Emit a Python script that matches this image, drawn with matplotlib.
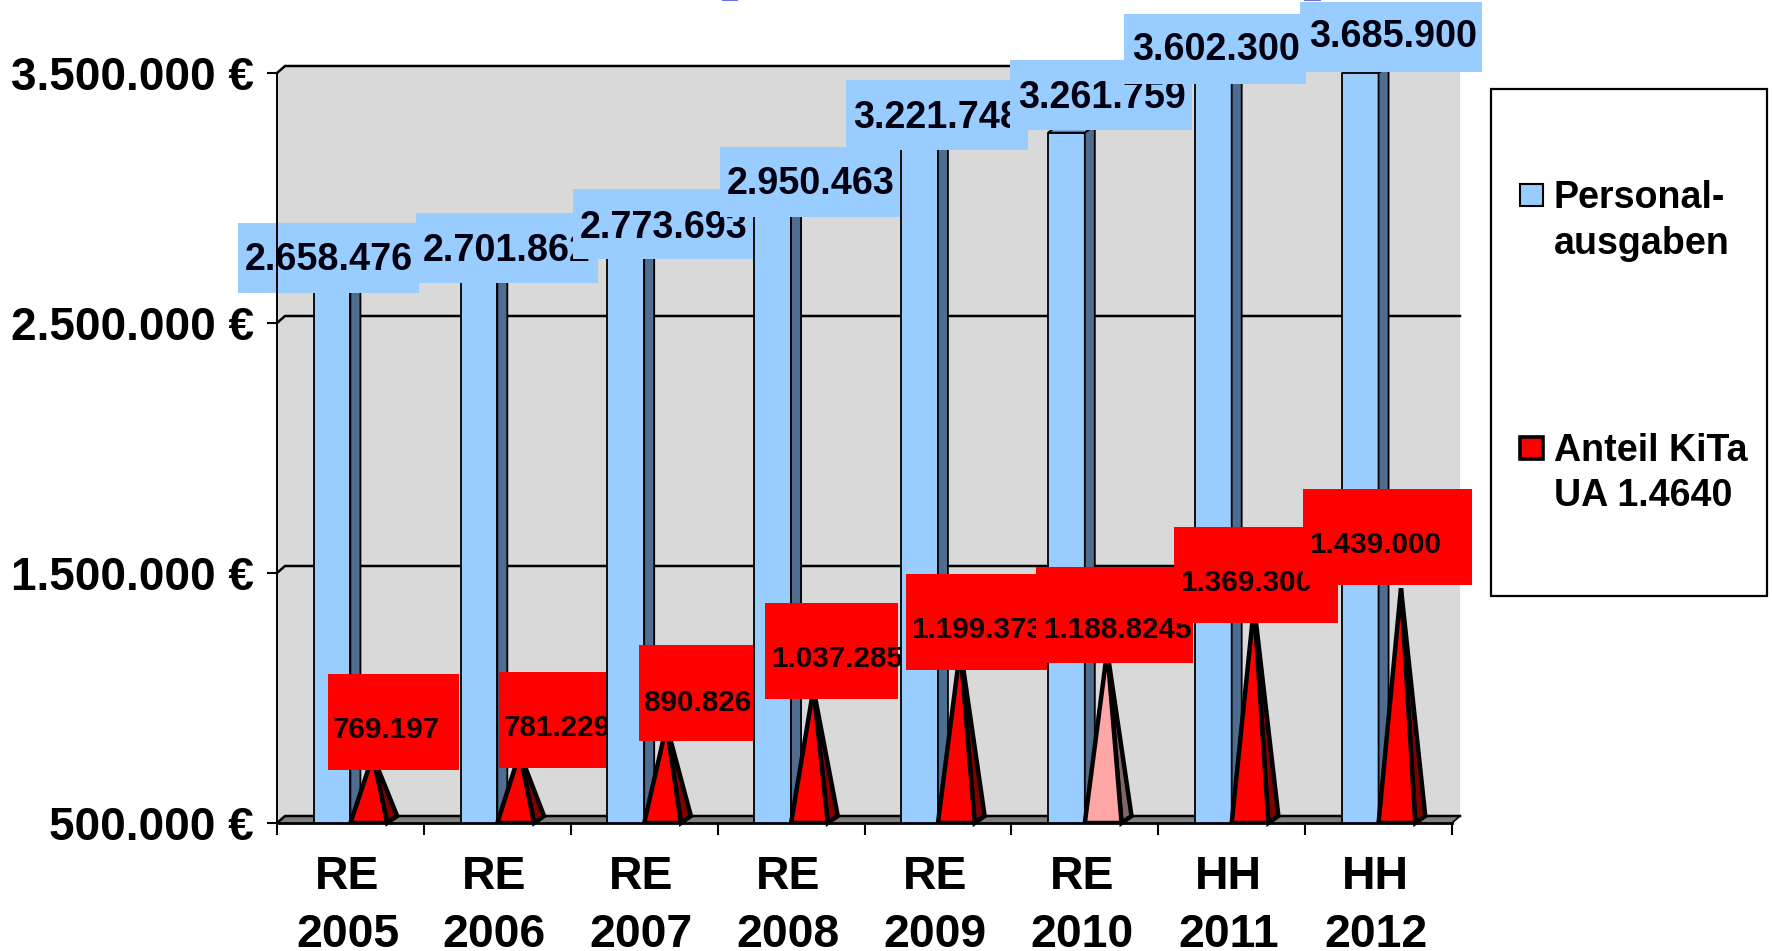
"""Personalausgaben vs. Anteil KiTa: 3D-style column/cone chart with label boxes."""

import matplotlib
matplotlib.use("Agg")
import matplotlib.pyplot as plt
from matplotlib.patches import Polygon, Rectangle
from matplotlib.transforms import Affine2D

W, H = 1772, 951

# data
CAT_TOP = ["RE", "RE", "RE", "RE", "RE", "RE", "HH", "HH"]
CAT_YEAR = ["2005", "2006", "2007", "2008", "2009", "2010", "2011", "2012"]
PERSONAL = [2658476, 2701862, 2773693, 2950463, 3221748, 3261759, 3602300, 3685900]
ANTEIL = [769197, 781229, 890826, 1037285, 1199373, 1188824, 1369300, 1439000]
ANTEIL_LABELS = ["769.197", "781.229", "890.826", "1.037.285", "1.199.373",
                 "1.188.8245", "1.369.300", "1.439.000"]
Y_TICKS = [500000, 1500000, 2500000, 3500000]
Y_MIN, Y_MAX = 500000, 3500000
LEGEND_PERSONAL = ["Personal-", "ausgaben"]
LEGEND_ANTEIL = ["Anteil KiTa", "UA 1.4640"]

# hand placed label boxes, in image pixels: left, right, top, bottom, text x, text y
BLUE_BOXES = [
    (238, 419, 223, 293, 245, 260),
    (416, 598, 213, 283, 423, 251),
    (573, 753, 189, 259, 580, 228),
    (720, 900, 147, 217, 727, 184),
    (846, 1028, 80, 150, 853, 118),
    (1010, 1192, 60, 130, 1018, 98),
    (1124, 1306, 14, 84, 1132, 50),
    (1300, 1482, 2, 72, 1309, 37),
]
RED_BOXES = [
    (328, 459, 674, 770, 333, 730),
    (499, 606, 672, 768, 504, 728),
    (639, 754, 645, 741, 644, 703),
    (765, 898, 603, 699, 771, 659),
    (906, 1047, 574, 670, 911, 630),
    (1036, 1193, 567, 663, 1043, 630),
    (1174, 1338, 527, 623, 1180, 583),
    (1303, 1472, 489, 585, 1309, 545),
]

LIGHT_BLUE = "#99CCFF"
SIDE_BLUE = "#4F6D8F"
CAP_BLUE = "#7FAEDD"
RED = "#FF0000"
DARK_RED = "#800000"
PALE_RED = "#FFA6A6"
PALE_SIDE = "#7F6666"
WALL = "#D9D9D9"
FLOOR = "#808080"

plt.rcParams["font.family"] = ["Liberation Sans", "DejaVu Sans"]
plt.rcParams["font.weight"] = "bold"

fig = plt.figure(figsize=(W / 100, H / 100), dpi=100, facecolor="white")
ax = fig.add_axes([277 / W, 1 - 823 / H, (1452 - 277) / W, 750 / H])
ax.patch.set_visible(False)
ax.set_xlim(-0.5, 7.5)
ax.set_ylim(Y_MIN, Y_MAX)

# image pixel coordinates, for the hand placed bits
PX = Affine2D().scale(1 / W, -1 / H).translate(0, 1) + fig.transFigure

# depth offset of the fake 3D, in data units
DX = 8 / 146.9
DY = 7 * 4000
COL_DX = 10 / 146.9  # columns and cones look deeper than the wall
BAR_W = 0.25
x0, x1 = ax.get_xlim()

# back wall and floor
ax.add_patch(Polygon([(x0, Y_MIN), (x0, Y_MAX), (x0 + DX, Y_MAX + DY), (x1 + DX, Y_MAX + DY),
                      (x1 + DX, Y_MIN + DY), (x0 + DX, Y_MIN + DY)],
                     fc=WALL, ec="none", clip_on=False, zorder=0.1))
ax.add_patch(Polygon([(x0, Y_MIN), (x0 + DX, Y_MIN + DY), (x1 + DX, Y_MIN + DY), (x1, Y_MIN)],
                     fc=FLOOR, ec="none", clip_on=False, zorder=0.2))
for y in Y_TICKS:
    ax.plot([x0, x0 + DX, x1 + DX], [y, y + DY, y + DY], color="black", lw=1.8,
            solid_joinstyle="miter", clip_on=False, zorder=0.3)
ax.plot([x1, x1 + DX], [Y_MIN, Y_MIN + DY], color="black", lw=1.2, clip_on=False, zorder=0.3)

for i, (pers, ant) in enumerate(zip(PERSONAL, ANTEIL)):
    z = 2 + i
    # blue column, right edge on the category centre
    left = i - BAR_W
    top = min(pers, Y_MAX)
    ax.bar(left, pers, width=BAR_W, bottom=0, align="edge", color=LIGHT_BLUE,
           edgecolor="black", linewidth=1.3, zorder=z)
    ax.add_patch(Polygon([(i, Y_MIN), (i + COL_DX, Y_MIN + DY), (i + COL_DX, top + DY), (i, top)],
                         fc=SIDE_BLUE, ec="black", lw=1.3, clip_on=False, zorder=z + 0.05))
    ax.add_patch(Polygon([(left, top), (left + COL_DX, top + DY), (i + COL_DX, top + DY), (i, top)],
                         fc=CAP_BLUE, ec="black", lw=1.3, clip_on=False, zorder=z + 0.06))

    # cone next to it, the 2010 one is the pale one
    pale = CAT_YEAR[i] == "2010"
    apex = (i + BAR_W * 0.61, ant)
    ax.add_patch(Polygon([(i + BAR_W, Y_MIN), (i + BAR_W + COL_DX, Y_MIN + DY), apex],
                         fc=PALE_SIDE if pale else DARK_RED, ec="black", lw=3.2,
                         joinstyle="miter", clip_on=False, zorder=z + 0.1))
    ax.add_patch(Polygon([(i, Y_MIN), (i + BAR_W, Y_MIN), apex],
                         fc=PALE_RED if pale else RED, ec="black", lw=3.2,
                         joinstyle="miter", clip_on=True, zorder=z + 0.2))

    # red value box
    l, r, t, b, tx, ty = RED_BOXES[i]
    ax.add_patch(Rectangle((l, t), r - l, b - t, transform=PX, fc=RED, ec="none",
                           clip_on=False, zorder=z + 0.3))
    txt = ax.text(tx, ty, ANTEIL_LABELS[i], transform=PX, fontsize=21.3, ha="left", va="center",
                  color="#100000", clip_on=False, zorder=z + 0.4)
    if ANTEIL_LABELS[i] == "1.369.300":
        # last digit is cut off in the original box
        txt.set_clip_path(Rectangle((l, 0), 1314 - l, H, transform=PX))
        txt.set_clip_on(True)

# blue value boxes sit on top of everything, each one over the previous label
for i, pers in enumerate(PERSONAL):
    l, r, t, b, tx, ty = BLUE_BOXES[i]
    ax.add_patch(Rectangle((l, t), r - l, b - t, transform=PX, fc=LIGHT_BLUE, ec="none",
                           clip_on=False, zorder=20 + i))
    ax.text(tx, ty, f"{pers:,}".replace(",", "."), transform=PX, fontsize=27.2, ha="left",
            va="center", color="#000010", clip_on=False, zorder=20.5 + i)

# axes
for name in ("top", "right"):
    ax.spines[name].set_visible(False)
for name in ("left", "bottom"):
    ax.spines[name].set_zorder(30)
    ax.spines[name].set_linewidth(1.4)
ax.spines["bottom"].set_linewidth(2)

ax.set_yticks(Y_TICKS)
ax.set_yticklabels([f"{v:,} €".replace(",", ".") for v in Y_TICKS], fontsize=33)
ax.tick_params(axis="y", length=7.5, width=1.5, pad=9)

ax.set_xticks([k - 0.5 for k in range(len(CAT_YEAR) + 1)])
ax.set_xticklabels([])
# label ticks sit a touch left of the column edge, like the original text
ax.set_xticks([k - 0.02 for k in range(len(CAT_YEAR))], minor=True)
ax.set_xticklabels([f"{a}\n{b}" for a, b in zip(CAT_TOP, CAT_YEAR)], minor=True,
                   fontsize=33.4, linespacing=1.4)
ax.tick_params(axis="x", which="major", length=8.5, width=1.5)
ax.tick_params(axis="x", which="minor", length=0, pad=23)

# legend box
ax.add_patch(Rectangle((1491, 89), 276, 507, transform=PX, fc="white", ec="black", lw=1.6,
                       clip_on=False, zorder=40))
ax.add_patch(Rectangle((1520, 184), 23, 22, transform=PX, fc=LIGHT_BLUE, ec="black", lw=1.5,
                       clip_on=False, zorder=41))
ax.add_patch(Rectangle((1520, 437), 23, 22, transform=PX, fc=RED, ec="black", lw=2.6,
                       clip_on=False, zorder=41))
for label, y in zip(LEGEND_PERSONAL + LEGEND_ANTEIL, [198, 244, 451, 496]):
    ax.text(1554, y, label, transform=PX, fontsize=27.1, ha="left", va="center",
            clip_on=False, zorder=41)

# what is left of the cropped title
for l, r in [(722, 738), (1304, 1321)]:
    ax.add_patch(Rectangle((l, 0), r - l, 1, transform=PX, fc="#7070E0", ec="none",
                           clip_on=False, zorder=50))

fig.savefig("out.png", dpi=100, facecolor="white")
